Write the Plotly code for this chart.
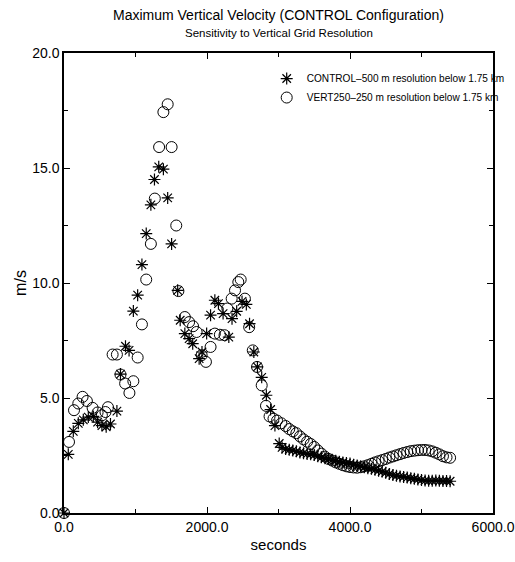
import plotly.graph_objects as go

# ---- data ----
control_t = [0, 60, 130, 200, 270, 340, 410, 470, 530, 590, 650, 740, 790, 860, 910, 970,
             1030, 1090, 1150, 1215, 1265, 1325, 1390, 1450, 1505, 1590, 1625, 1690, 1750,
             1800, 1890, 1930, 1995, 2050, 2110, 2160, 2225, 2305, 2350, 2415, 2490, 2550,
             2595, 2655, 2705, 2765, 2830, 2890, 2950, 3010,
             3050, 3100, 3150, 3200, 3250, 3300, 3350, 3400, 3450, 3500, 3550, 3600, 3650,
             3700, 3750, 3800, 3850, 3900, 3950, 4000, 4050, 4100, 4150, 4200, 4250, 4300,
             4350, 4400, 4450, 4500, 4550, 4600, 4650, 4700, 4750, 4800, 4850, 4900, 4950,
             5000, 5050, 5100, 5150, 5200, 5250, 5300, 5350, 5400]
control_w = [0.0, 2.55, 3.55, 3.9, 4.05, 4.17, 4.2, 3.95, 3.8, 3.75, 3.87, 4.43, 6.04, 7.25,
             7.07, 8.78, 9.47, 10.8, 12.15, 13.4, 14.5, 15.05, 14.95, 13.7, 11.7, 9.68, 8.38,
             7.8, 7.58, 7.36, 6.71, 7.0, 7.8, 8.6, 9.25, 9.1, 8.67, 7.65, 8.45, 8.77, 9.2,
             9.07, 8.23, 7.0, 6.35, 5.9, 5.12, 4.5, 3.8, 3.02,
             2.85, 2.78, 2.75, 2.72, 2.68, 2.63, 2.6, 2.57, 2.55, 2.52, 2.47, 2.42, 2.38,
             2.35, 2.31, 2.27, 2.23, 2.2, 2.17, 2.15, 2.1, 2.06, 2.03, 1.99, 1.95, 1.92,
             1.88, 1.84, 1.8, 1.75, 1.7, 1.65, 1.62, 1.59, 1.57, 1.54, 1.51, 1.49, 1.46,
             1.43, 1.41, 1.4, 1.4, 1.41, 1.4, 1.39, 1.39, 1.38]

vert_t = [0, 70, 140, 200, 260, 320, 400, 470, 530, 580, 615, 680, 740, 790, 855, 915, 970,
          1030, 1090, 1150, 1215, 1270, 1330, 1390, 1450, 1505, 1570, 1600, 1690, 1750, 1805,
          1855, 1925, 1985, 2050, 2110, 2180, 2245, 2285, 2345, 2392, 2438, 2471, 2530, 2590,
          2640, 2700, 2765, 2825, 2875, 2930, 2980,
          3040, 3100, 3150, 3200, 3250, 3300, 3350, 3400, 3450, 3500, 3550, 3600, 3650,
          3700, 3750, 3800, 3850, 3900, 3950, 4000, 4050, 4100, 4150, 4200, 4250, 4300,
          4350, 4400, 4450, 4500, 4550, 4600, 4650, 4700, 4750, 4800, 4850, 4900, 4950,
          5000, 5050, 5100, 5150, 5200, 5250, 5300, 5350, 5400]
vert_w = [0.0, 3.09, 4.47, 4.76, 5.05, 4.87, 4.57, 4.37, 4.25, 4.39, 4.6, 6.89, 6.89, 6.02,
          5.63, 5.22, 5.73, 6.76, 8.2, 10.15, 11.7, 13.67, 15.91, 17.43, 17.77, 15.91, 12.5,
          9.65, 8.52, 8.3, 8.12, 7.87, 6.86, 6.57, 7.22, 7.8, 7.75, 7.73, 8.89, 9.32, 9.68,
          10.04, 10.15, 9.32, 8.08, 7.07, 6.35, 5.55, 4.66, 4.2, 4.1, 4.02,
          3.9, 3.78, 3.65, 3.55, 3.47, 3.33, 3.2, 3.1, 3.0, 2.87, 2.72, 2.58, 2.45,
          2.35, 2.28, 2.2, 2.14, 2.08, 2.03, 2.0, 1.98, 1.97, 1.99, 2.03, 2.08, 2.14,
          2.2, 2.25, 2.3, 2.35, 2.41, 2.46, 2.51, 2.56, 2.61, 2.65, 2.69, 2.71, 2.73,
          2.74, 2.74, 2.72, 2.68, 2.62, 2.55, 2.47, 2.42, 2.4]

x_tickvals = [0, 2000, 4000, 6000]
x_ticktext = ["0.0", "2000.0", "4000.0", "6000.0"]
y_tickvals = [0, 5, 10, 15, 20]
y_ticktext = ["0.0", "5.0", "10.0", "15.0", "20.0"]

FONT = "Liberation Sans, Arial, Helvetica, sans-serif"

fig = go.Figure()
fig.add_trace(go.Scatter(
    x=control_t, y=control_w, mode="markers",
    name="CONTROL\u2013500 m resolution below 1.75 km",
    marker=dict(symbol="asterisk-open", size=10, color="black",
                line=dict(color="black", width=1.2)),
    cliponaxis=False))
fig.add_trace(go.Scatter(
    x=vert_t, y=vert_w, mode="markers",
    name="VERT250\u2013250 m resolution below 1.75 km",
    marker=dict(symbol="circle-open", size=11, color="black",
                line=dict(color="black", width=1)),
    cliponaxis=False))

axis_common = dict(showgrid=False, zeroline=False, showline=True, linecolor="black",
                   linewidth=1.5, mirror="ticks", ticks="inside", ticklen=6,
                   tickcolor="black", tickfont=dict(family=FONT, size=14, color="black"))

fig.update_layout(
    width=515, height=562,
    margin=dict(l=64, r=22, t=53, b=49, autoexpand=False),
    paper_bgcolor="white", plot_bgcolor="white",
    font=dict(family=FONT, color="black"),
    xaxis=dict(range=[0, 6000], tickvals=x_tickvals, ticktext=x_ticktext,
               minor=dict(tickvals=[1000, 3000, 5000], ticks="inside", ticklen=4,
                          tickcolor="black"),
               title=dict(text="seconds", font=dict(family=FONT, size=15), standoff=6),
               **axis_common),
    yaxis=dict(range=[0, 20], tickvals=y_tickvals, ticktext=y_ticktext,
               minor=dict(tickvals=[2.5, 7.5, 12.5, 17.5], ticks="inside", ticklen=4,
                          tickcolor="black"),
               title=dict(text="m/s", font=dict(family=FONT, size=16), standoff=2),
               **axis_common),
    showlegend=True,
    legend=dict(x=0.4725, xanchor="left", y=0.976, yanchor="top",
                bgcolor="rgba(0,0,0,0)", borderwidth=0,
                font=dict(family=FONT, size=10.1, color="black"),
                itemwidth=30, tracegroupgap=2),
    annotations=[
        dict(text="Maximum Vertical Velocity (CONTROL Configuration)",
             xref="paper", yref="paper", x=0.5, y=1.0826, xanchor="center",
             yanchor="middle", showarrow=False,
             font=dict(family=FONT, size=14, color="black")),
        dict(text="Sensitivity to Vertical Grid Resolution",
             xref="paper", yref="paper", x=0.5, y=1.0435, xanchor="center",
             yanchor="middle", showarrow=False,
             font=dict(family=FONT, size=11.5, color="black")),
    ],
)

fig.write_html("out.html")
